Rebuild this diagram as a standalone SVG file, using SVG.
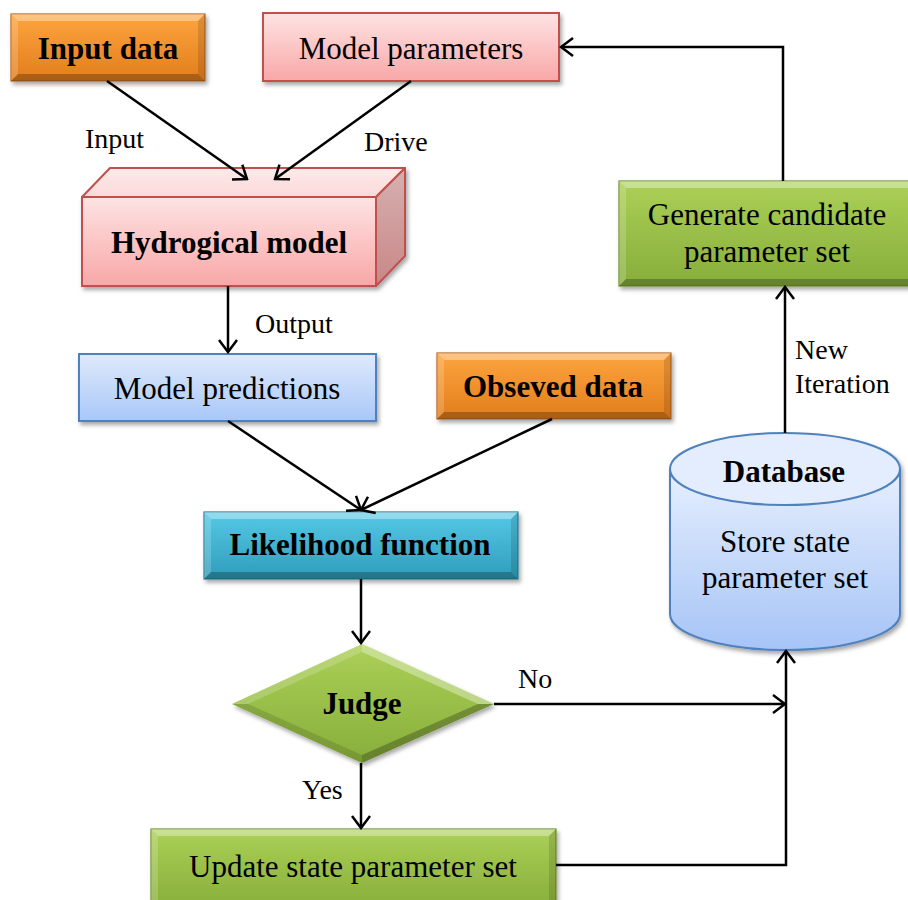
<svg xmlns="http://www.w3.org/2000/svg" width="908" height="900" viewBox="0 0 908 900">
<defs>
<linearGradient id="gOrange" x1="0" y1="0" x2="0" y2="1"><stop offset="0" stop-color="#fda53f"/><stop offset="1" stop-color="#e27d1c"/></linearGradient>
<linearGradient id="gPink" x1="0" y1="0" x2="0" y2="1"><stop offset="0" stop-color="#fee3e3"/><stop offset="1" stop-color="#f9a7a7"/></linearGradient>
<linearGradient id="gPinkTop" x1="0" y1="0" x2="0" y2="1"><stop offset="0" stop-color="#fdeaea"/><stop offset="1" stop-color="#fcd9d9"/></linearGradient>
<linearGradient id="gPinkSide" x1="0" y1="0" x2="0" y2="1"><stop offset="0" stop-color="#d6b0b0"/><stop offset="1" stop-color="#c98787"/></linearGradient>
<linearGradient id="gBlue" x1="0" y1="0" x2="0" y2="1"><stop offset="0" stop-color="#dfeafc"/><stop offset="1" stop-color="#a8c7f8"/></linearGradient>
<linearGradient id="gTeal" x1="0" y1="0" x2="0" y2="1"><stop offset="0" stop-color="#56c9e7"/><stop offset="1" stop-color="#2d9dba"/></linearGradient>
<linearGradient id="gGreen" x1="0" y1="0" x2="0" y2="1"><stop offset="0" stop-color="#acd057"/><stop offset="1" stop-color="#87ae3b"/></linearGradient>
<linearGradient id="gCyl" x1="0" y1="0" x2="0" y2="1"><stop offset="0" stop-color="#e6effd"/><stop offset="1" stop-color="#a6c4f7"/></linearGradient>
<filter id="sh" x="-10%" y="-10%" width="130%" height="140%"><feDropShadow dx="2" dy="3" stdDeviation="2" flood-color="#000" flood-opacity="0.35"/></filter>
<marker id="arr" markerWidth="16" markerHeight="22" refX="14" refY="11" orient="auto" markerUnits="userSpaceOnUse"><path d="M2,2 L14,11 L2,20" fill="none" stroke="#000" stroke-width="2.5"/></marker>
</defs>
<style>
text{font-family:"Liberation Serif","Times New Roman",serif;fill:#000}
.t{font-size:31px;text-anchor:middle}
.b{font-size:31px;font-weight:bold;text-anchor:middle}
.l{font-size:28px}
.hl{fill:#fff;fill-opacity:.35}
.hl2{fill:#fff;fill-opacity:.18}
.dk{fill:#000;fill-opacity:.12}
.dk2{fill:#000;fill-opacity:.25}
.c{fill:none;stroke:#000;stroke-width:2.5}
</style>

<g id="input-data">
<rect x="11" y="14" width="194" height="67" fill="url(#gOrange)" stroke="#b5651d" stroke-width="1.2" filter="url(#sh)"/>
<polygon class="hl" points="11,14 205,14 198,21 18,21"/>
<polygon class="hl2" points="11,14 18,21 18,74 11,81"/>
<polygon class="dk" points="205,14 205,81 198,74 198,21"/>
<polygon class="dk2" points="11,81 205,81 198,74 18,74"/>
<text class="b" x="108" y="59">Input data</text>
</g>

<g id="model-parameters">
<rect x="263" y="13" width="296" height="68" fill="url(#gPink)" stroke="#c0504d" stroke-width="2" filter="url(#sh)"/>
<text class="t" x="411" y="59">Model parameters</text>
</g>

<g id="hydrogical-model">
<g filter="url(#sh)">
<polygon points="82,197 110,168 405,168 376,197" fill="url(#gPinkTop)" stroke="#c0504d" stroke-width="2" stroke-linejoin="round"/>
<polygon points="376,197 405,168 405,256 376,286" fill="url(#gPinkSide)" stroke="#c0504d" stroke-width="2" stroke-linejoin="round"/>
<rect x="82" y="197" width="294" height="89" fill="url(#gPink)" stroke="#c0504d" stroke-width="2"/>
</g>
<text class="b" x="229" y="253">Hydrogical model</text>
</g>

<g id="model-predictions">
<rect x="79" y="354" width="297" height="67" fill="url(#gBlue)" stroke="#4f81bd" stroke-width="2" filter="url(#sh)"/>
<text class="t" x="227" y="399">Model predictions</text>
</g>

<g id="obseved-data">
<rect x="437" y="353" width="234" height="66" fill="url(#gOrange)" stroke="#b5651d" stroke-width="1.2" filter="url(#sh)"/>
<polygon class="hl" points="437,353 671,353 664,360 444,360"/>
<polygon class="hl2" points="437,353 444,360 444,412 437,419"/>
<polygon class="dk" points="671,353 671,419 664,412 664,360"/>
<polygon class="dk2" points="437,419 671,419 664,412 444,412"/>
<text class="b" x="553" y="397">Obseved data</text>
</g>

<g id="likelihood-function">
<rect x="204" y="512" width="314" height="67" fill="url(#gTeal)" stroke="#2c7f95" stroke-width="1.2" filter="url(#sh)"/>
<polygon class="hl" points="204,512 518,512 511,519 211,519"/>
<polygon class="hl2" points="204,512 211,519 211,572 204,579"/>
<polygon class="dk" points="518,512 518,579 511,572 511,519"/>
<polygon class="dk2" points="204,579 518,579 511,572 211,572"/>
<text class="b" x="360" y="555">Likelihood function</text>
</g>

<g id="judge">
<polygon points="232,704 362,644 494,704 362,763" fill="url(#gGreen)" filter="url(#sh)"/>
<polygon class="hl2" points="232,704 362,644 362,652 248,704"/>
<polygon class="hl" points="362,644 494,704 478,704 362,652"/>
<polygon class="dk2" points="494,704 362,763 362,755 478,704"/>
<polygon class="dk" points="362,763 232,704 248,704 362,755"/>
<text class="b" x="362" y="714">Judge</text>
</g>

<g id="update-state">
<rect x="151" y="829" width="405" height="80" fill="url(#gGreen)" stroke="#6f8f30" stroke-width="1.2" filter="url(#sh)"/>
<polygon class="hl" points="151,829 556,829 549,836 158,836"/>
<polygon class="hl2" points="151,829 158,836 158,909 151,909"/>
<polygon class="dk" points="556,829 556,909 549,909 549,836"/>
<text class="t" x="353" y="877">Update state parameter set</text>
</g>

<g id="database">
<g filter="url(#sh)">
<path d="M670,469 V614 A115,36 0 0 0 900,614 V469 Z" fill="url(#gCyl)" stroke="#4f81bd" stroke-width="2"/>
<ellipse cx="785" cy="469" rx="115" ry="36" fill="#e3edfd" stroke="#4f81bd" stroke-width="2"/>
</g>
<text class="b" x="784" y="482">Database</text>
<text class="t" x="785" y="552">Store state</text>
<text class="t" x="785" y="588">parameter set</text>
</g>

<g id="generate-candidate">
<rect x="619" y="181" width="300" height="105" fill="url(#gGreen)" stroke="#6f8f30" stroke-width="1.2" filter="url(#sh)"/>
<polygon class="hl" points="619,181 919,181 912,188 626,188"/>
<polygon class="hl2" points="619,181 626,188 626,279 619,286"/>
<polygon class="dk2" points="619,286 919,286 912,279 626,279"/>
<text class="t" x="767" y="225">Generate candidate</text>
<text class="t" x="767" y="262">parameter set</text>
</g>

<g id="connectors">
<line class="c" x1="107" y1="81" x2="247" y2="179" marker-end="url(#arr)"/>
<line class="c" x1="411" y1="81" x2="275" y2="179" marker-end="url(#arr)"/>
<line class="c" x1="228" y1="286" x2="228" y2="352" marker-end="url(#arr)"/>
<line class="c" x1="228" y1="421" x2="361" y2="510" marker-end="url(#arr)"/>
<line class="c" x1="552" y1="419" x2="361" y2="510" marker-end="url(#arr)"/>
<line class="c" x1="361" y1="579" x2="361" y2="643" marker-end="url(#arr)"/>
<line class="c" x1="494" y1="704" x2="785" y2="704" marker-end="url(#arr)"/>
<line class="c" x1="361" y1="763" x2="361" y2="828" marker-end="url(#arr)"/>
<polyline class="c" points="556,865 786,865 786,651" marker-end="url(#arr)"/>
<line class="c" x1="785" y1="433" x2="785" y2="287" marker-end="url(#arr)"/>
<polyline class="c" points="783,181 783,47 561,47" marker-end="url(#arr)"/>
<text class="l" x="85" y="148">Input</text>
<text class="l" x="364" y="151">Drive</text>
<text class="l" x="255" y="333">Output</text>
<text class="l" x="518" y="688">No</text>
<text class="l" x="302" y="799">Yes</text>
<text class="l" x="795" y="359">New</text>
<text class="l" x="795" y="393">Iteration</text>
</g>
</svg>
